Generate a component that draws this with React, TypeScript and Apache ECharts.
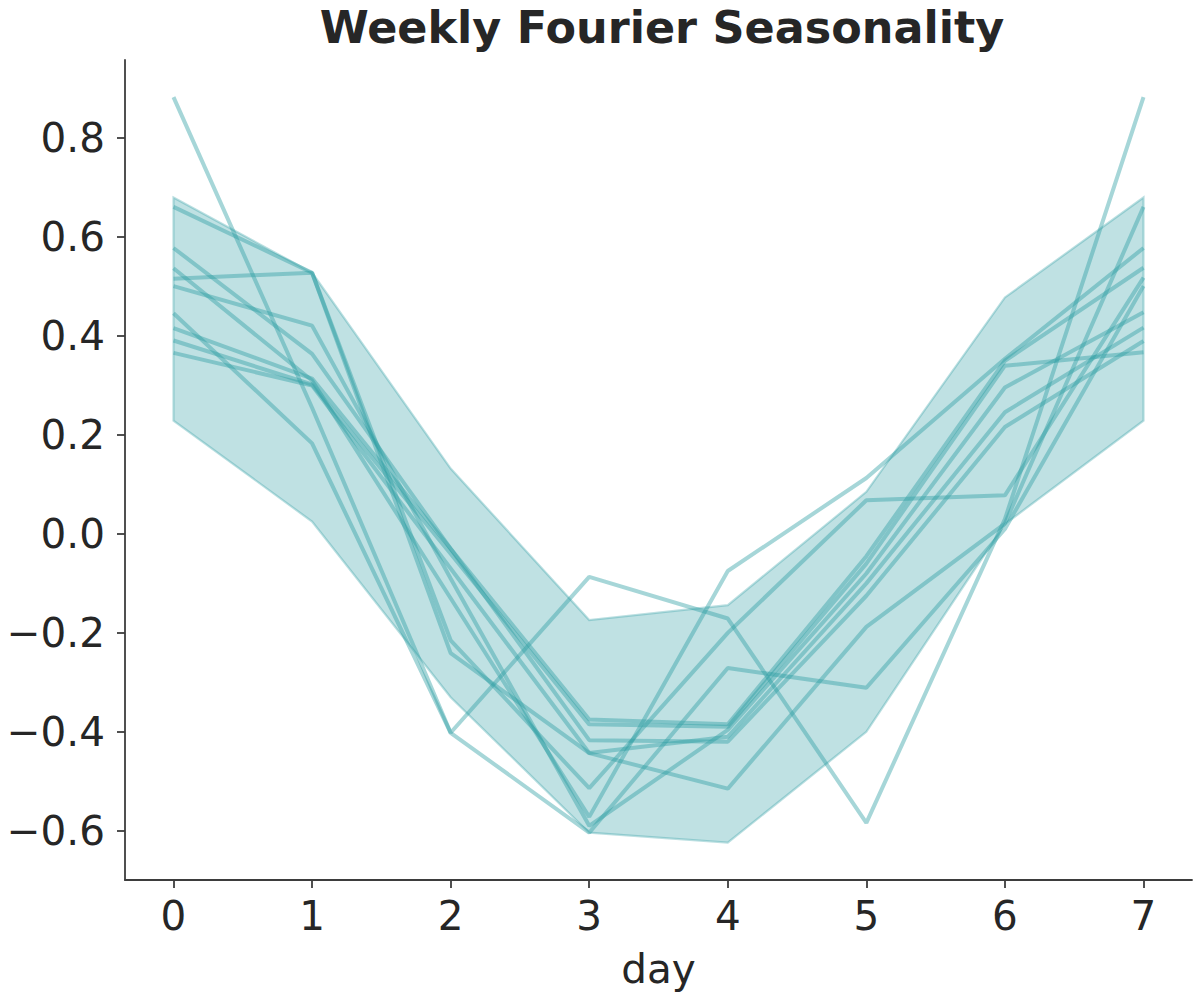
import React, { useEffect, useRef } from "react";
import * as echarts from "echarts";

const days = [0, 1, 2, 3, 4, 5, 6, 7];
const xTicks = [0, 1, 2, 3, 4, 5, 6, 7];
const yTicks = [-0.6, -0.4, -0.2, 0, 0.2, 0.4, 0.6, 0.8];

const bandUpper = [0.68, 0.528, 0.132, -0.174, -0.144, 0.085, 0.478, 0.68];
const bandLower = [0.229, 0.025, -0.33, -0.604, -0.624, -0.4, 0.02, 0.229];

const sample1 = [0.883, 0.255, -0.402, -0.087, -0.171, -0.584, 0.03, 0.883];
const sample2 = [0.661, 0.528, -0.241, -0.443, -0.515, -0.188, 0.021, 0.661];
const sample3 = [0.516, 0.528, -0.215, -0.514, -0.2, 0.068, 0.078, 0.518];
const sample4 = [0.537, 0.31, -0.13, -0.572, -0.075, 0.113, 0.354, 0.578];
const sample5 = [0.446, 0.183, -0.402, -0.604, -0.271, -0.311, 0.01, 0.501];
const sample6 = [0.578, 0.364, -0.03, -0.417, -0.42, -0.125, 0.216, 0.39];
const sample7 = [0.501, 0.421, -0.09, -0.59, -0.396, -0.08, 0.296, 0.448];
const sample8 = [0.416, 0.314, -0.03, -0.375, -0.385, -0.045, 0.35, 0.538];
const sample9 = [0.391, 0.302, -0.04, -0.385, -0.39, -0.06, 0.34, 0.367];
const sample10 = [0.366, 0.3, -0.07, -0.443, -0.41, -0.1, 0.246, 0.417];

const samples = [sample1, sample2, sample3, sample4, sample5, sample6, sample7, sample8, sample9, sample10];

const TEAL = "42,157,163";
const FONT = "DejaVu Sans";

function fmt(v: number): string {
  const s = Math.abs(v).toFixed(1);
  return v < -1e-9 ? "\u2212" + s : s;
}

export default function App() {
  const ref = useRef<HTMLDivElement>(null);
  useEffect(() => {
    if (!ref.current) return;
    const chart = echarts.init(ref.current, undefined, { renderer: "svg" });
    const bandSeries: any = {
      type: "custom",
      data: [[0, 0]],
      z: 1,
      renderItem: (_params: any, api: any) => {
        const pts: number[][] = [];
        for (let i = 0; i < days.length; i++) pts.push(api.coord([days[i], bandUpper[i]]));
        for (let i = days.length - 1; i >= 0; i--) pts.push(api.coord([days[i], bandLower[i]]));
        return {
          type: "polygon",
          shape: { points: pts },
          style: {
            fill: `rgba(${TEAL},0.3)`,
            stroke: `rgba(${TEAL},0.32)`,
            lineWidth: 2.2,
          },
        };
      },
    };
    const lineSeries = samples.map((s) => ({
      type: "line",
      data: days.map((d, i) => [d, s[i]]),
      symbol: "none",
      z: 2,
      lineStyle: { color: `rgba(${TEAL},0.42)`, width: 4 },
    }));
    const axisLineStyle = { color: "#3d3d3d", width: 1.8 };
    chart.setOption({
      animation: false,
      backgroundColor: "#ffffff",
      title: {
        text: "Weekly Fourier Seasonality",
        left: 657,
        top: 0,
        textAlign: "center",
        textStyle: { fontFamily: FONT, fontSize: 44.5, fontWeight: "bold", color: "#262626" },
      },
      grid: { left: 125, right: 8, top: 60, bottom: 120, containLabel: false },
      xAxis: {
        type: "value",
        min: -0.35,
        max: 7.35,
        name: "day",
        nameLocation: "middle",
        nameGap: 68,
        nameTextStyle: { fontFamily: FONT, fontSize: 40.5, color: "#262626" },
        splitLine: { show: false },
        axisLine: { show: true, onZero: false, lineStyle: axisLineStyle },
        axisTick: { show: true, length: 8, lineStyle: axisLineStyle, customValues: xTicks },
        axisLabel: {
          fontFamily: FONT,
          fontSize: 40.5,
          color: "#262626",
          margin: 15,
          customValues: xTicks,
          formatter: (v: number) => String(Math.round(v)),
        },
      },
      yAxis: {
        type: "value",
        min: -0.6996,
        max: 0.958,
        splitLine: { show: false },
        axisLine: { show: true, onZero: false, lineStyle: axisLineStyle },
        axisTick: { show: true, length: 8, lineStyle: axisLineStyle, customValues: yTicks },
        axisLabel: {
          fontFamily: FONT,
          fontSize: 40.5,
          color: "#262626",
          margin: 20,
          customValues: yTicks,
          formatter: (v: number) => fmt(v),
        },
      },
      series: [bandSeries, ...lineSeries],
    });
    return () => chart.dispose();
  }, []);
  return (
    <div
      ref={ref}
      style={{ position: "fixed", left: 0, top: 0, width: 1200, height: 1000, background: "#fff" }}
    />
  );
}
